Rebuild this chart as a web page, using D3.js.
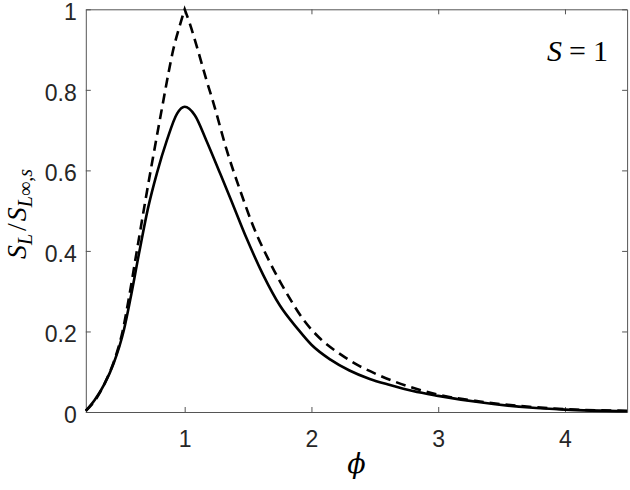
<!DOCTYPE html>
<html>
<head>
<meta charset="UTF-8">
<title>S_L / S_L,inf,s vs phi</title>
<script src="https://d3js.org/d3.v7.min.js"></script>
<style>
  body { margin: 0; background: #fff; }
  .tick text { font-family: "Liberation Sans", Arial, Helvetica, sans-serif; font-size: 23px; fill: #262626; }
</style>
</head>
<body>
<div id="chart"></div>
<script>

// solid curve
var solidPhi = [0.22, 0.29, 0.37, 0.44, 0.52, 0.57, 0.64, 0.71, 0.78, 0.86, 0.94, 1.0,
                1.08, 1.17, 1.28, 1.36, 1.49, 1.62, 1.75, 1.89, 2.0, 2.15, 2.3, 2.46,
                2.62, 2.8, 3.0, 3.33, 3.72, 4.0, 4.49];
var solidVal = [0.003, 0.030, 0.071, 0.121, 0.203, 0.278, 0.394, 0.505, 0.592, 0.675, 0.741, 0.758,
                0.737, 0.675, 0.592, 0.531, 0.430, 0.340, 0.265, 0.207, 0.167, 0.130, 0.103, 0.082,
                0.067, 0.052, 0.040, 0.024, 0.011, 0.006, 0.002];

// dashed curve (cusp at phi = 1)
var dashPhi = [0.22, 0.30, 0.37, 0.44, 0.51, 0.56, 0.62, 0.69, 0.75, 0.83, 0.87, 0.91, 0.96, 1.0,
               1.04, 1.10, 1.17, 1.23, 1.33, 1.44, 1.54, 1.67, 1.81, 1.94, 2.06, 2.23, 2.38,
               2.52, 2.8, 3.0, 3.33, 3.72, 4.0, 4.49];
var dashVal = [0.003, 0.032, 0.072, 0.124, 0.200, 0.283, 0.395, 0.525, 0.632, 0.770, 0.838, 0.900, 0.958, 1.0,
               0.965, 0.903, 0.826, 0.764, 0.652, 0.548, 0.462, 0.373, 0.292, 0.228, 0.185, 0.143, 0.114,
               0.093, 0.060, 0.043, 0.026, 0.013, 0.007, 0.003];

var xTicks = [1, 2, 3, 4];
var yTicks = [0, 0.2, 0.4, 0.6, 0.8, 1];
var yTickLabels = ["0", "0.2", "0.4", "0.6", "0.8", "1"];

var margin = {top: 9.3, left: 85.8},
    width = 541.3,
    height = 402.7;

var serif = '"Liberation Serif", "DejaVu Serif", "Times New Roman", serif';

var svg = d3.select("#chart")
  .append("svg")
    .attr("width", 630)
    .attr("height", 490)
  .append("g")
    .attr("transform", "translate(" + margin.left + "," + margin.top + ")");

var x = d3.scaleLinear().domain([0.22, 4.49]).range([0, width]);
var y = d3.scaleLinear().domain([0, 1]).range([height, 0]);

// axes, ticks pointing inward
svg.append("g")
  .attr("transform", "translate(0," + height + ")")
  .call(d3.axisBottom(x).tickValues(xTicks).tickFormat(d3.format("d"))
        .tickSizeInner(-5).tickSizeOuter(0).tickPadding(19));

svg.append("g")
  .call(d3.axisLeft(y).tickValues(yTicks).tickFormat(function(d, i) { return yTickLabels[i]; })
        .tickSizeInner(-5).tickSizeOuter(0).tickPadding(9))
  .selectAll("text").attr("dy", "0.45em");

svg.append("g")
  .call(d3.axisTop(x).tickValues(xTicks).tickFormat("").tickSizeInner(-5).tickSizeOuter(0));

svg.append("g")
  .attr("transform", "translate(" + width + ",0)")
  .call(d3.axisRight(y).tickValues(yTicks).tickFormat("").tickSizeInner(-5).tickSizeOuter(0));

svg.selectAll(".domain, .tick line")
  .attr("stroke", "#555")
  .attr("stroke-width", 1);

// curves
var solid = solidPhi.map(function(p, i) { return [p, solidVal[i]]; });
var dash = dashPhi.map(function(p, i) { return [p, dashVal[i]]; });

var line = d3.line()
  .x(function(d) { return x(d[0]); })
  .y(function(d) { return y(d[1]); })
  .curve(d3.curveMonotoneX);

svg.append("path")
  .attr("d", line(solid))
  .attr("fill", "none")
  .attr("stroke", "#000")
  .attr("stroke-width", 2.6);

// two branches so the peak stays sharp, joined into one path
var left = dash.filter(function(d) { return d[0] <= 1; });
var right = dash.filter(function(d) { return d[0] >= 1; });
svg.append("path")
  .attr("d", line(left) + line(right).replace(/^M/, "L"))
  .attr("fill", "none")
  .attr("stroke", "#000")
  .attr("stroke-width", 2.6)
  .attr("stroke-dasharray", "10,6");

// labels
svg.append("text")
  .attr("x", width / 2)
  .attr("y", 473 - margin.top)
  .attr("text-anchor", "middle")
  .style("font-family", '"DejaVu Serif", serif')
  .style("font-size", "27px")
  .style("font-style", "italic")
  .text("\u03D5");

var yl = svg.append("text")
  .attr("transform", "translate(" + (26 - margin.left) + "," + (214 - margin.top) + ") rotate(-90)")
  .attr("text-anchor", "middle")
  .style("font-family", serif)
  .style("font-size", "28px");
yl.append("tspan").style("font-style", "italic").text("S");
yl.append("tspan").style("font-style", "italic").style("font-size", "20px").attr("dy", 6).text("L");
yl.append("tspan").attr("dy", -6).attr("dx", 3).text("/");
yl.append("tspan").style("font-style", "italic").attr("dx", 2).text("S");
yl.append("tspan").style("font-style", "italic").style("font-size", "20px").attr("dy", 6).text("L");
yl.append("tspan").style("font-size", "20px").text("\u221E,");
yl.append("tspan").style("font-style", "italic").style("font-size", "20px").text("s");

var st = svg.append("text")
  .attr("x", 608 - margin.left)
  .attr("y", 61.5 - margin.top)
  .attr("text-anchor", "end")
  .style("font-family", serif)
  .style("font-size", "30px");
st.append("tspan").style("font-style", "italic").text("S");
st.append("tspan").attr("dx", 7).text("=");
st.append("tspan").attr("dx", 7).text("1");

</script>
</body>
</html>
